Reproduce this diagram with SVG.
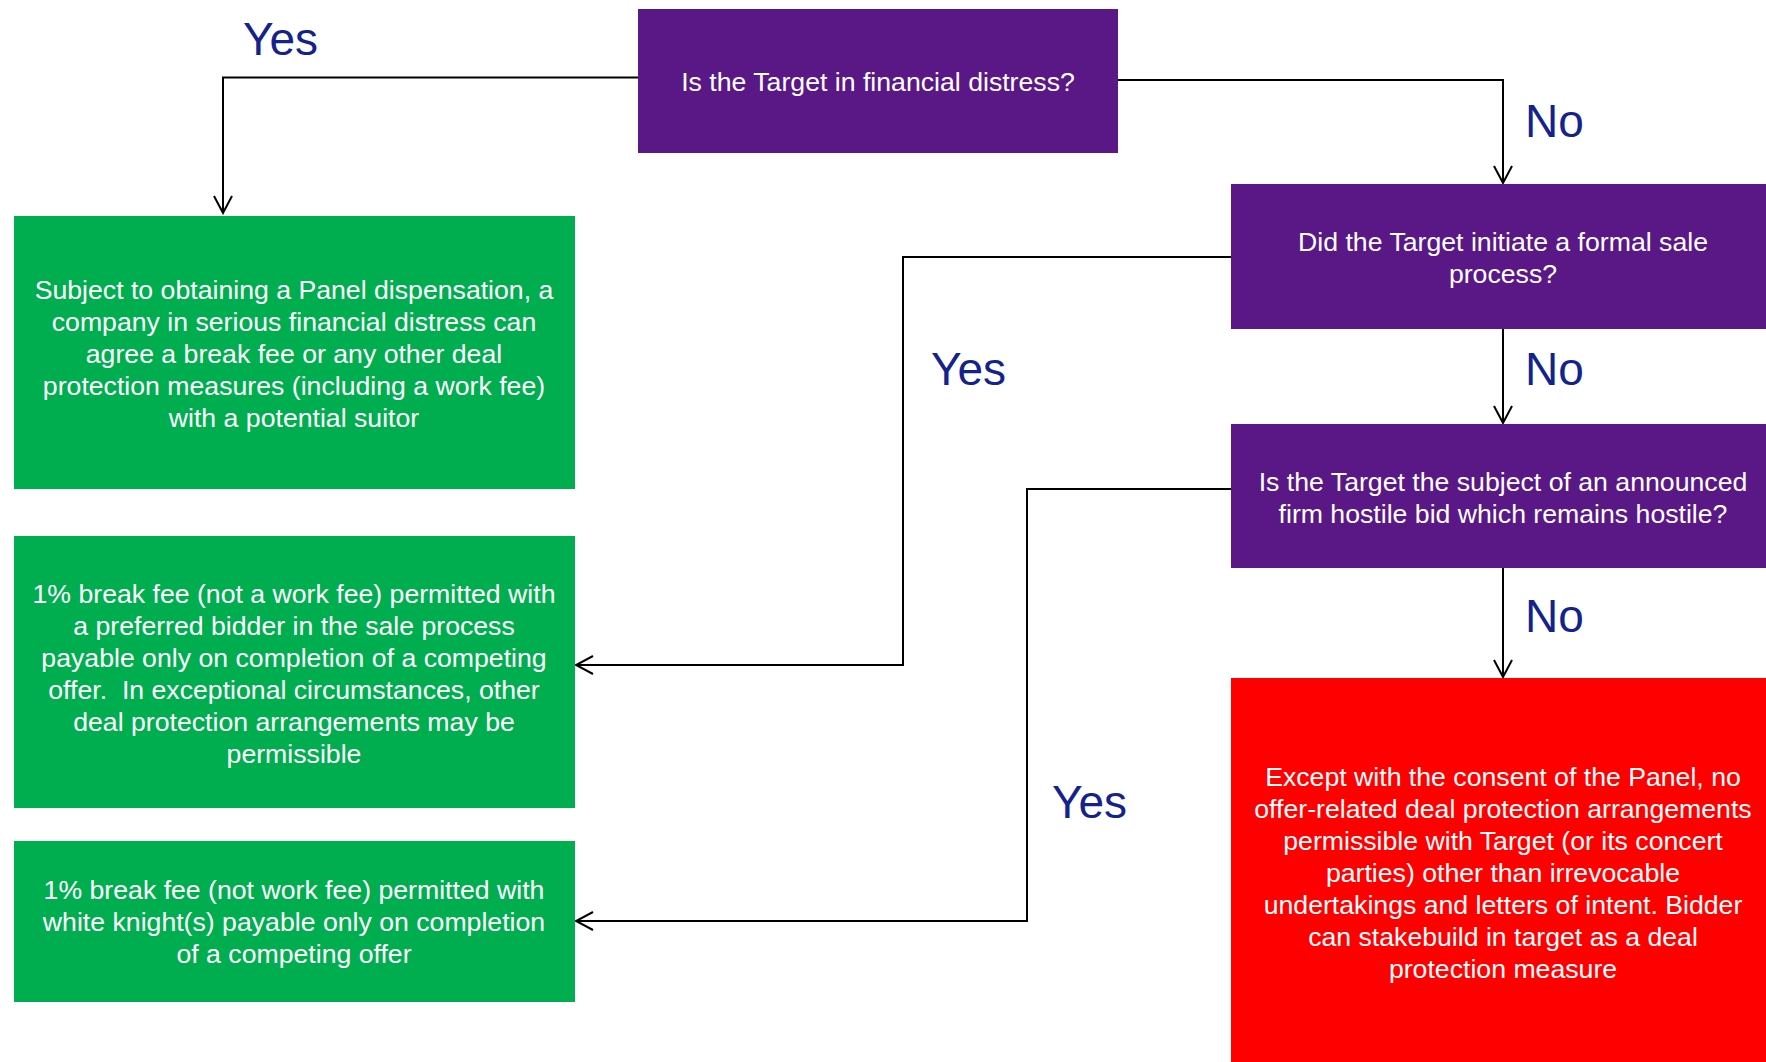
<svg xmlns="http://www.w3.org/2000/svg" width="1766" height="1062" viewBox="0 0 1766 1062">
<style>
.q{fill:#5A1886}
.g{fill:#00AE50}
.r{fill:#FF0000}
.t{font-family:"Liberation Sans",Arial,sans-serif;font-size:26.67px;fill:#FFFFFF;text-anchor:middle}
.lbl{font-family:"Liberation Sans",Arial,sans-serif;font-size:46px;fill:#14238C}
.c{fill:none;stroke:#000000;stroke-width:2}
</style>
<defs>
<marker id="arr" viewBox="0 0 20 20" refX="18" refY="10" markerWidth="20" markerHeight="20" markerUnits="userSpaceOnUse" orient="auto">
<path d="M1,1 L18,10 L1,19" fill="none" stroke="#000000" stroke-width="2"/>
</marker>
</defs>
<rect width="1766" height="1062" fill="#FFFFFF"/>
<g id="connectors">
<path class="c" d="M638,77.5 H223 V213" marker-end="url(#arr)"/>
<path class="c" d="M1118,80 H1503 V183" marker-end="url(#arr)"/>
<path class="c" d="M1231,257 H903 V665 H576" marker-end="url(#arr)"/>
<path class="c" d="M1503,329 V423" marker-end="url(#arr)"/>
<path class="c" d="M1231,489 H1027 V921 H576" marker-end="url(#arr)"/>
<path class="c" d="M1503,568 V677" marker-end="url(#arr)"/>
</g>
<g id="labels">
<text class="lbl" x="243" y="55">Yes</text>
<text class="lbl" x="1525" y="137">No</text>
<text class="lbl" x="931" y="385">Yes</text>
<text class="lbl" x="1525" y="385">No</text>
<text class="lbl" x="1525" y="632">No</text>
<text class="lbl" x="1052" y="818">Yes</text>
</g>
<g id="q1">
<rect class="q" x="638" y="9" width="480" height="144"/>
<text class="t" x="878" y="91">Is the Target in financial distress?</text>
</g>
<g id="q2">
<rect class="q" x="1231" y="184" width="544" height="145"/>
<text class="t" x="1503" y="251">Did the Target initiate a formal sale</text>
<text class="t" x="1503" y="283">process?</text>
</g>
<g id="q3">
<rect class="q" x="1231" y="424" width="544" height="144"/>
<text class="t" x="1503" y="491">Is the Target the subject of an announced</text>
<text class="t" x="1503" y="523">firm hostile bid which remains hostile?</text>
</g>
<g id="a1">
<rect class="g" x="14" y="216" width="561" height="273"/>
<text class="t" x="294" y="299">Subject to obtaining a Panel dispensation, a</text>
<text class="t" x="294" y="331">company in serious financial distress can</text>
<text class="t" x="294" y="363">agree a break fee or any other deal</text>
<text class="t" x="294" y="395">protection measures (including a work fee)</text>
<text class="t" x="294" y="427">with a potential suitor</text>
</g>
<g id="a2">
<rect class="g" x="14" y="536" width="561" height="272"/>
<text class="t" x="294" y="603">1% break fee (not a work fee) permitted with</text>
<text class="t" x="294" y="635">a preferred bidder in the sale process</text>
<text class="t" x="294" y="667">payable only on completion of a competing</text>
<text class="t" x="294" y="699" xml:space="preserve">offer.  In exceptional circumstances, other</text>
<text class="t" x="294" y="731">deal protection arrangements may be</text>
<text class="t" x="294" y="763">permissible</text>
</g>
<g id="a3">
<rect class="g" x="14" y="841" width="561" height="161"/>
<text class="t" x="294" y="899">1% break fee (not work fee) permitted with</text>
<text class="t" x="294" y="931">white knight(s) payable only on completion</text>
<text class="t" x="294" y="963">of a competing offer</text>
</g>
<g id="a4">
<rect class="r" x="1231" y="678" width="544" height="384"/>
<text class="t" x="1503" y="786">Except with the consent of the Panel, no</text>
<text class="t" x="1503" y="818">offer-related deal protection arrangements</text>
<text class="t" x="1503" y="850">permissible with Target (or its concert</text>
<text class="t" x="1503" y="882">parties) other than irrevocable</text>
<text class="t" x="1503" y="914">undertakings and letters of intent. Bidder</text>
<text class="t" x="1503" y="946">can stakebuild in target as a deal</text>
<text class="t" x="1503" y="978">protection measure</text>
</g>
</svg>
